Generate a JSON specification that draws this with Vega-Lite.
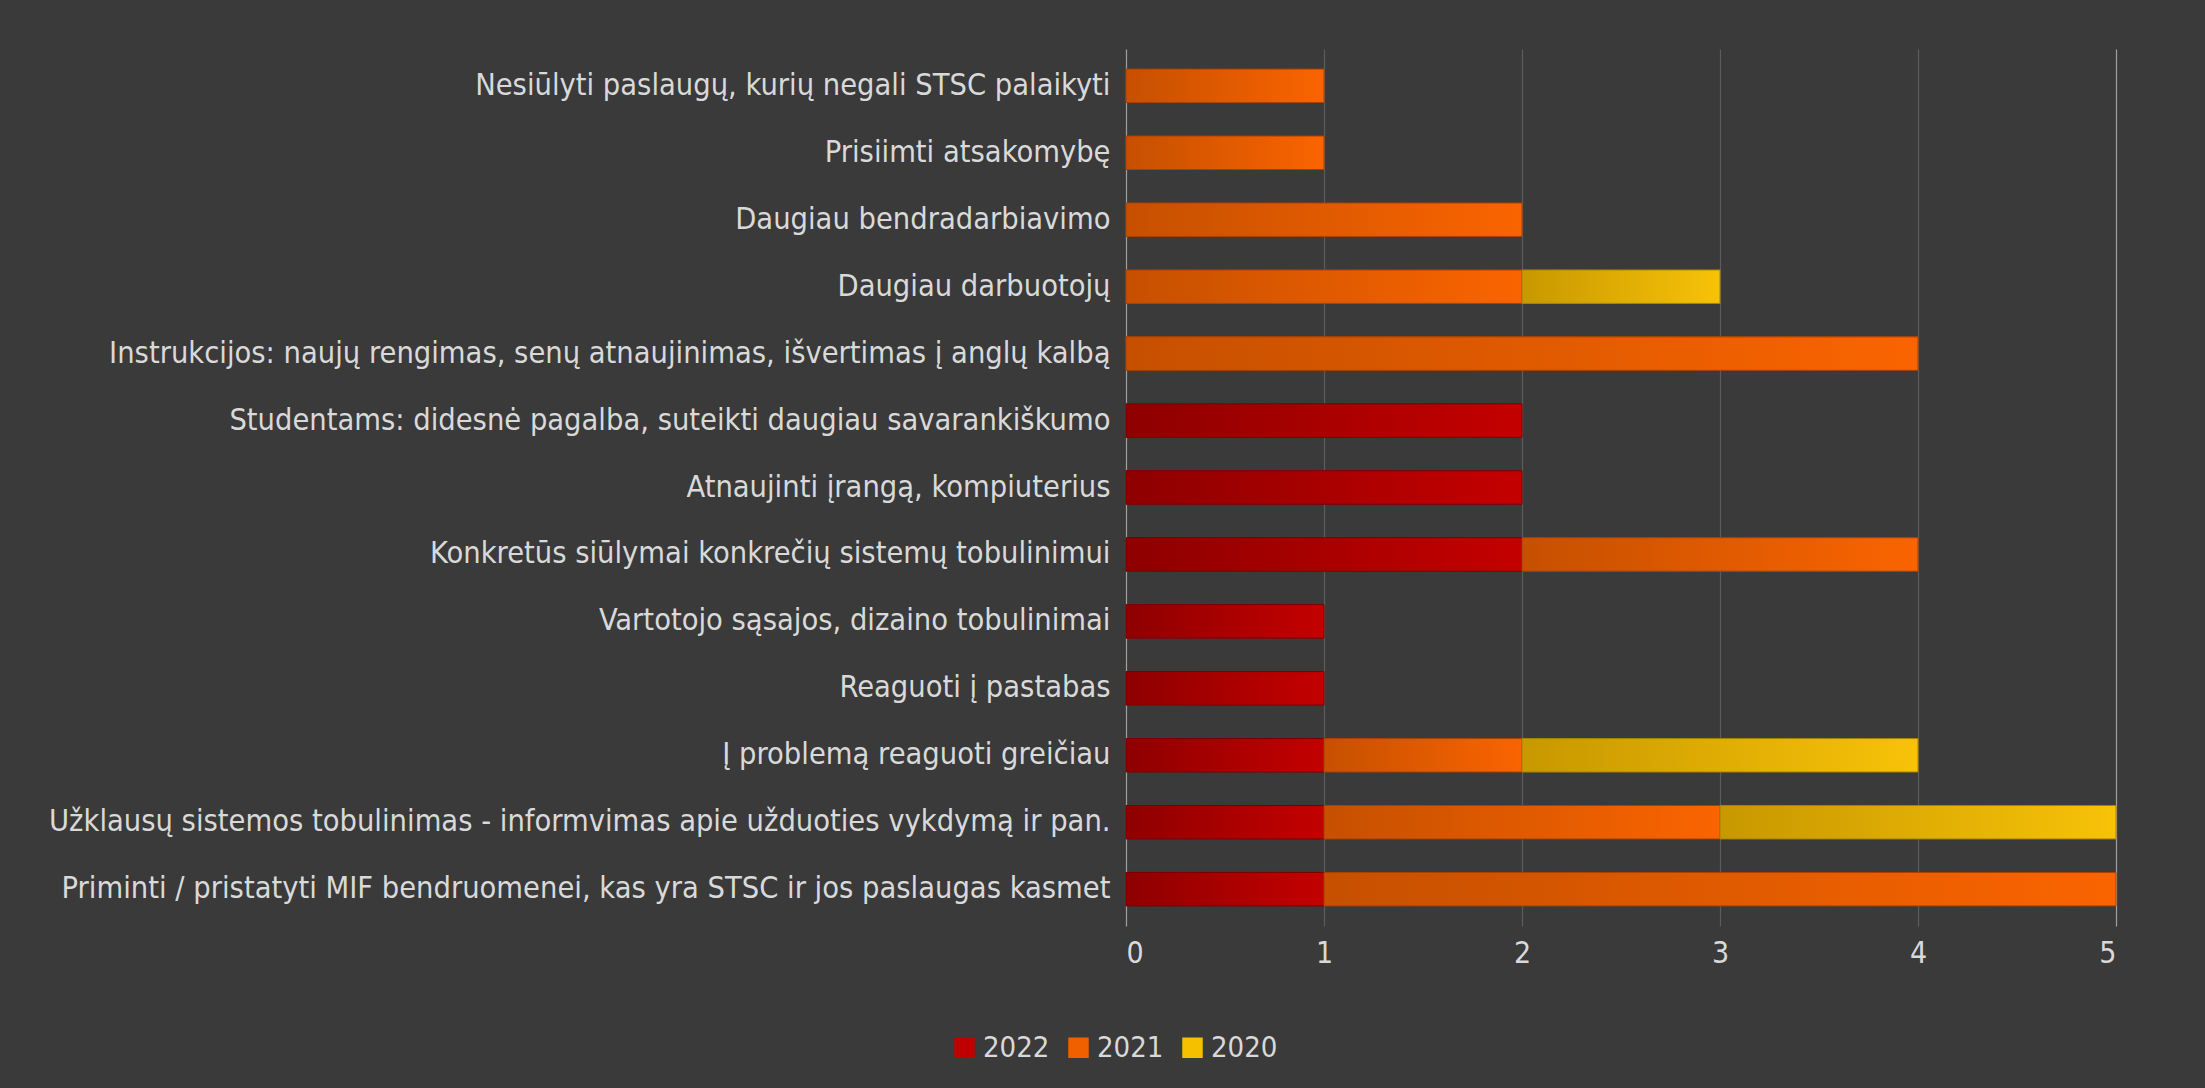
{
  "$schema": "https://vega.github.io/schema/vega-lite/v6.json",
  "width": 990,
  "height": 877,
  "autosize": "none",
  "padding": {"left": 1126, "top": 49, "right": 89, "bottom": 162},
  "background": "#3a3a3a",
  "config": {
    "view": {"stroke": null},
    "font": "DejaVu Sans Condensed, Liberation Sans"
  },
  "data": {
    "values": [
      {"cat": "Nesiūlyti paslaugų, kurių negali STSC palaikyti", "year": "2021", "ord": 2, "value": 1},
      {"cat": "Prisiimti atsakomybę", "year": "2021", "ord": 2, "value": 1},
      {"cat": "Daugiau bendradarbiavimo", "year": "2021", "ord": 2, "value": 2},
      {"cat": "Daugiau darbuotojų", "year": "2021", "ord": 2, "value": 2},
      {"cat": "Daugiau darbuotojų", "year": "2020", "ord": 3, "value": 1},
      {"cat": "Instrukcijos: naujų rengimas, senų atnaujinimas, išvertimas į anglų kalbą", "year": "2021", "ord": 2, "value": 4},
      {"cat": "Studentams: didesnė pagalba, suteikti daugiau savarankiškumo", "year": "2022", "ord": 1, "value": 2},
      {"cat": "Atnaujinti įrangą, kompiuterius", "year": "2022", "ord": 1, "value": 2},
      {"cat": "Konkretūs siūlymai konkrečių sistemų tobulinimui", "year": "2022", "ord": 1, "value": 2},
      {"cat": "Konkretūs siūlymai konkrečių sistemų tobulinimui", "year": "2021", "ord": 2, "value": 2},
      {"cat": "Vartotojo sąsajos, dizaino tobulinimai", "year": "2022", "ord": 1, "value": 1},
      {"cat": "Reaguoti į pastabas", "year": "2022", "ord": 1, "value": 1},
      {"cat": "Į problemą reaguoti greičiau", "year": "2022", "ord": 1, "value": 1},
      {"cat": "Į problemą reaguoti greičiau", "year": "2021", "ord": 2, "value": 1},
      {"cat": "Į problemą reaguoti greičiau", "year": "2020", "ord": 3, "value": 2},
      {"cat": "Užklausų sistemos tobulinimas - informvimas apie užduoties vykdymą ir pan.", "year": "2022", "ord": 1, "value": 1},
      {"cat": "Užklausų sistemos tobulinimas - informvimas apie užduoties vykdymą ir pan.", "year": "2021", "ord": 2, "value": 2},
      {"cat": "Užklausų sistemos tobulinimas - informvimas apie užduoties vykdymą ir pan.", "year": "2020", "ord": 3, "value": 2},
      {"cat": "Priminti / pristatyti MIF bendruomenei, kas yra STSC ir jos paslaugas kasmet", "year": "2022", "ord": 1, "value": 1},
      {"cat": "Priminti / pristatyti MIF bendruomenei, kas yra STSC ir jos paslaugas kasmet", "year": "2021", "ord": 2, "value": 4}
    ]
  },
  "transform": [
    {"stack": "value", "groupby": ["cat"], "sort": [{"field": "ord", "order": "ascending"}], "as": ["x0", "x1"]}
  ],
  "encoding": {
    "y": {
      "field": "cat",
      "type": "nominal",
      "sort": [
        "Nesiūlyti paslaugų, kurių negali STSC palaikyti",
        "Prisiimti atsakomybę",
        "Daugiau bendradarbiavimo",
        "Daugiau darbuotojų",
        "Instrukcijos: naujų rengimas, senų atnaujinimas, išvertimas į anglų kalbą",
        "Studentams: didesnė pagalba, suteikti daugiau savarankiškumo",
        "Atnaujinti įrangą, kompiuterius",
        "Konkretūs siūlymai konkrečių sistemų tobulinimui",
        "Vartotojo sąsajos, dizaino tobulinimai",
        "Reaguoti į pastabas",
        "Į problemą reaguoti greičiau",
        "Užklausų sistemos tobulinimas - informvimas apie užduoties vykdymą ir pan.",
        "Priminti / pristatyti MIF bendruomenei, kas yra STSC ir jos paslaugas kasmet"
      ],
      "scale": {"paddingInner": 0.5, "paddingOuter": 0.3},
      "axis": {
        "title": null,
        "ticks": false,
        "domain": false,
        "labelPadding": 16,
        "labelFontSize": 30.5,
        "labelColor": "#d9d9d9",
        "labelLimit": 1200
      }
    },
    "x": {
      "field": "x0",
      "type": "quantitative",
      "scale": {"domain": [0, 5], "nice": false},
      "axis": {
        "title": null,
        "values": [0, 1, 2, 3, 4, 5],
        "ticks": false,
        "domain": false,
        "labelPadding": 12,
        "labelFontSize": 30,
        "labelColor": "#d9d9d9",
        "grid": true,
        "gridColor": {"condition": {"test": "datum.value === 0 || datum.value === 5", "value": "#a0a0a0"}, "value": "#5c5c5c"},
        "gridWidth": 1.2
      }
    },
    "x2": {"field": "x1"}
  },
  "layer": [
    {
      "mark": {"type": "bar"},
      "encoding": {
        "color": {
          "field": "year",
          "type": "nominal",
          "scale": {"domain": ["2022", "2021", "2020"], "range": ["#c00000", "#f06000", "#f5c000"]},
          "legend": {
            "title": null,
            "orient": "none",
            "direction": "horizontal",
            "legendX": -176,
            "legendY": 984,
            "symbolType": "square",
            "symbolSize": 420,
            "symbolStrokeWidth": 0,
            "labelFontSize": 29,
            "labelColor": "#d9d9d9",
            "columnPadding": 14,
            "labelOffset": 4
          }
        }
      }
    },
    {
      "transform": [{"filter": "datum.year === '2022'"}],
      "mark": {
        "type": "bar",
        "stroke": "#7a0000",
        "strokeWidth": 1,
        "fill": {"gradient": "linear", "x1": 0, "y1": 0, "x2": 1, "y2": 0, "stops": [{"offset": 0, "color": "#8e0000"}, {"offset": 1, "color": "#c40000"}]}
      }
    },
    {
      "transform": [{"filter": "datum.year === '2021'"}],
      "mark": {
        "type": "bar",
        "stroke": "#a84000",
        "strokeWidth": 1,
        "fill": {"gradient": "linear", "x1": 0, "y1": 0, "x2": 1, "y2": 0, "stops": [{"offset": 0, "color": "#c65000"}, {"offset": 1, "color": "#fa6400"}]}
      }
    },
    {
      "transform": [{"filter": "datum.year === '2020'"}],
      "mark": {
        "type": "bar",
        "stroke": "#a88000",
        "strokeWidth": 1,
        "fill": {"gradient": "linear", "x1": 0, "y1": 0, "x2": 1, "y2": 0, "stops": [{"offset": 0, "color": "#c79800"}, {"offset": 1, "color": "#f8c208"}]}
      }
    }
  ]
}
